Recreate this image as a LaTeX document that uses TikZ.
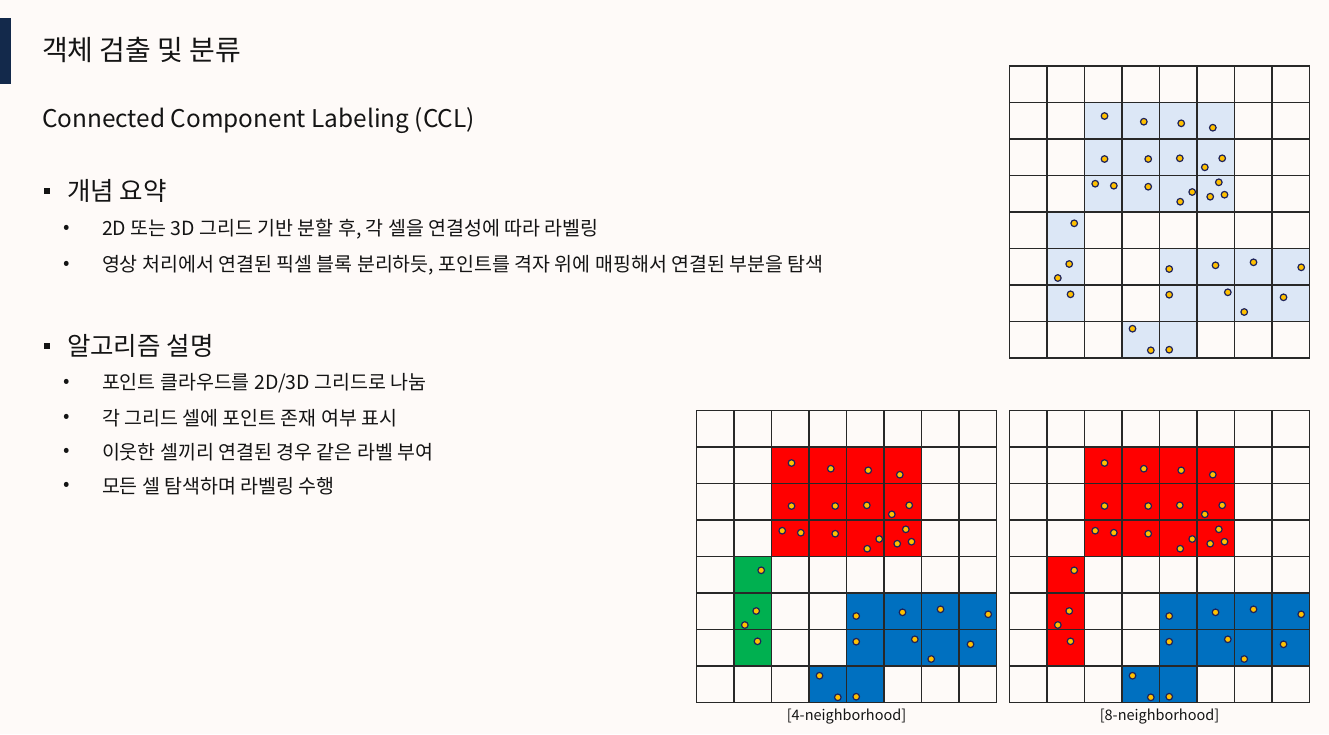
\documentclass[tikz,border=0pt]{standalone}
\usepackage{fontspec}
\setmainfont{Noto Sans CJK KR}
\usetikzlibrary{positioning}

\definecolor{pagebg}{RGB}{254,250,248}
\definecolor{barnavy}{RGB}{19,41,75}
\definecolor{textgray}{RGB}{20,20,20}
\definecolor{gridgray}{RGB}{40,40,40}
\definecolor{cellblue}{RGB}{220,231,246}
\definecolor{labelred}{RGB}{255,0,0}
\definecolor{labelgreen}{RGB}{0,176,80}
\definecolor{labelblue}{RGB}{0,112,192}
\definecolor{pointyellow}{RGB}{255,192,0}
\definecolor{pointnavy}{RGB}{30,35,90}

% cells of the point cloud grid, column/row
\def\toppart{2/1,3/1,4/1,5/1,2/2,3/2,4/2,5/2,2/3,3/3,4/3,5/3}
\def\leftpart{1/4,1/5,1/6}
\def\bottompart{4/5,5/5,6/5,7/5,4/6,5/6,6/6,7/6,3/7,4/7}
% points, offset from the grid corner
\def\pointlist{95/50,134.3/55.7,171.7/57.3,203.3/61.7,95/93,138.7/93,170.3/92.3,212.7/92.3,195.3/101.3,85.7/117.7,104.3/119.7,138.7/120.7,182.7/126,170.7/135.7,209.3/116.3,200.7/130.7,215/128.7,64.7/157.3,59.7/198,48.3/212,61/228.3,159.7/203,206/199.3,244/196.3,291.7/201.3,159.7/228.7,218.3/226.3,234.7/246,274/231.3,123/262.7,141.3/284.3,159.7/283.7}

\newcommand{\cellfill}[2]{\foreach \c/\r in #2 \fill[#1] (\c*37.5,\r*36.5) rectangle ++(37.5,36.5);}
\newcommand{\cellgrid}{\foreach \i in {0,...,8} {\draw[cellline] (\i*37.5,0) -- (\i*37.5,292); \draw[cellline] (0,\i*36.5) -- (300,\i*36.5);}}
\newcommand{\cellpoints}[1]{\foreach \px/\py in \pointlist \draw[point] (\px,\py+#1) circle (3.3pt);}

\begin{document}
\begin{tikzpicture}[x=1pt,y=-1pt]
    \tikzstyle{every node}=[inner sep=0,outer sep=0,text=textgray]
    \tikzstyle{heading}=[anchor=west,font=\fontsize{28}{32}\selectfont]
    \tikzstyle{subhead}=[anchor=base west,font=\fontsize{24.4}{29}\selectfont]
    \tikzstyle{section}=[anchor=west,font=\fontsize{25.5}{30}\selectfont]
    \tikzstyle{item}=[anchor=west,font=\fontsize{19.5}{23}\selectfont]
    \tikzstyle{bullet}=[font=\fontsize{19}{22}\selectfont]
    \tikzstyle{square}=[fill=textgray,minimum size=6.5pt]
    \tikzstyle{caption}=[font=\fontsize{14.5}{17}\selectfont]
    \tikzstyle{cellline}=[line width=1.4pt,draw=gridgray,line cap=rect]
    \tikzstyle{point}=[fill=pointyellow,draw=pointnavy,line width=1.2pt]
    {
        \fill[pagebg] (0,0) rectangle (1329,734);
        \useasboundingbox (0,0) rectangle (1329,734);
        \fill[barnavy] (0,18) rectangle (11,84);

        % text side
        \node[heading] (title) at (42,50) {객체 검출 및 분류};
        \node[subhead] (ccl) at (42,127) {Connected Component Labeling (CCL)};

        \node[section] (concept) at (67,191) {개념 요약};
        \node[square,left=17pt of concept] {};
        \node[item] (concept1) at (102,229) {2D 또는 3D 그리드 기반 분할 후, 각 셀을 연결성에 따라 라벨링};
        \node[item] (concept2) at (102,265) {영상 처리에서 연결된 픽셀 블록 분리하듯, 포인트를 격자 위에 매핑해서 연결된 부분을 탐색};
        \node[bullet] at (67,229) {•};
        \node[bullet] at (67,265) {•};

        \node[section] (algo) at (67,346) {알고리즘 설명};
        \node[square,left=17pt of algo] {};
        \node[item] (algo1) at (102,383) {포인트 클라우드를 2D/3D 그리드로 나눔};
        \node[item] (algo2) at (102,418) {각 그리드 셀에 포인트 존재 여부 표시};
        \node[item] (algo3) at (102,452) {이웃한 셀끼리 연결된 경우 같은 라벨 부여};
        \node[item] (algo4) at (102,486) {모든 셀 탐색하며 라벨링 수행};
        \foreach \y in {383,418,452,486}
            \node[bullet] at (67,\y) {•};

        % occupied grid
        \begin{scope}[shift={(1009.5,66)}]
            \cellfill{cellblue}{\toppart}
            \cellfill{cellblue}{\leftpart}
            \cellfill{cellblue}{\bottompart}
            \cellgrid
            \cellpoints{0}
        \end{scope}

        % 4-neighborhood
        \begin{scope}[shift={(696.5,410.5)}]
            \cellfill{labelred}{\toppart}
            \cellfill{labelgreen}{\leftpart}
            \cellfill{labelblue}{\bottompart}
            \cellgrid
            \cellpoints{2.5}
        \end{scope}

        % 8-neighborhood
        \begin{scope}[shift={(1009.5,410.5)}]
            \cellfill{labelred}{\toppart}
            \cellfill{labelred}{\leftpart}
            \cellfill{labelblue}{\bottompart}
            \cellgrid
            \cellpoints{2.5}
        \end{scope}

        \coordinate (four) at (846.5,702.5);
        \coordinate (eight) at (1159.5,702.5);
        \node[caption,below=6pt of four] (fourcap) {[4-neighborhood]};
        \node[caption,below=6pt of eight] (eightcap) {[8-neighborhood]};
    }
\end{tikzpicture}
\end{document}
